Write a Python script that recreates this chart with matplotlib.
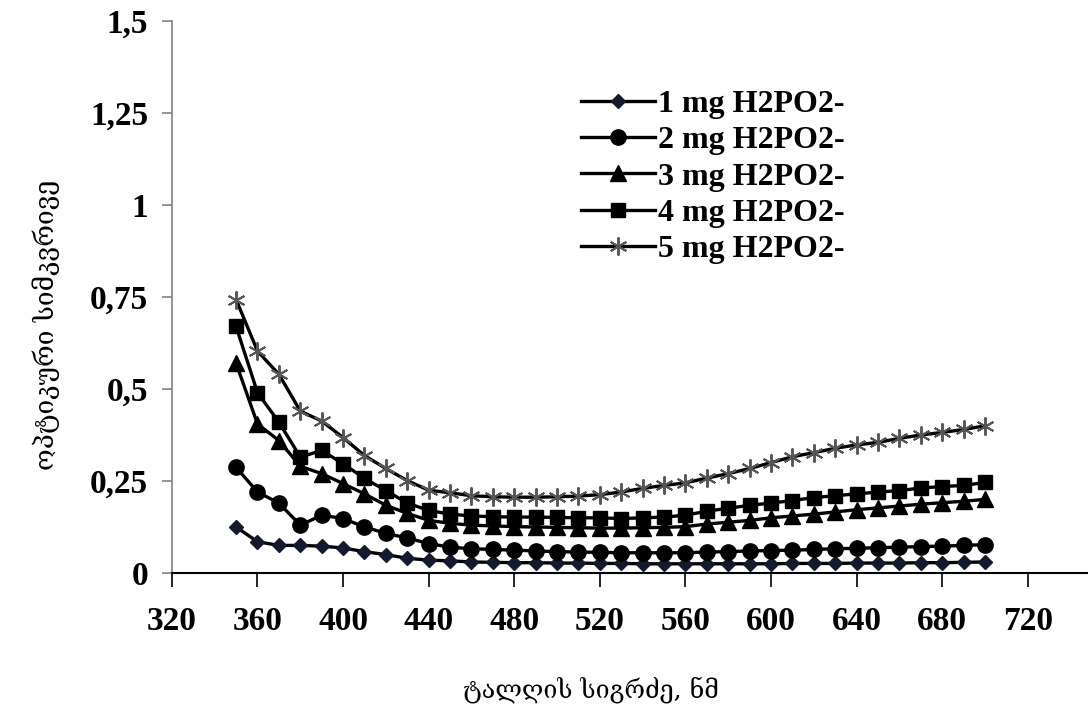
import matplotlib
matplotlib.use("Agg")
import matplotlib.pyplot as plt

# wavelength, nm
wl = [350, 360, 370, 380, 390, 400, 410, 420, 430, 440, 450, 460, 470, 480, 490, 500, 510, 520,
      530, 540, 550, 560, 570, 580, 590, 600, 610, 620, 630, 640, 650, 660, 670, 680, 690, 700]

mg1 = [0.125, 0.085, 0.075, 0.075, 0.073, 0.068, 0.058, 0.05, 0.04, 0.035, 0.033, 0.03, 0.029, 0.028,
       0.028, 0.027, 0.027, 0.026, 0.026, 0.025, 0.025, 0.025, 0.025, 0.025, 0.025, 0.025, 0.026, 0.026,
       0.026, 0.027, 0.027, 0.027, 0.028, 0.028, 0.029, 0.03]
mg2 = [0.287, 0.22, 0.19, 0.13, 0.157, 0.148, 0.125, 0.108, 0.095, 0.08, 0.07, 0.066, 0.064, 0.062,
       0.06, 0.058, 0.057, 0.056, 0.055, 0.055, 0.055, 0.055, 0.057, 0.058, 0.06, 0.061, 0.062, 0.064,
       0.066, 0.067, 0.069, 0.07, 0.072, 0.073, 0.075, 0.077]
mg3 = [0.57, 0.405, 0.36, 0.29, 0.27, 0.243, 0.215, 0.184, 0.162, 0.143, 0.135, 0.13, 0.128, 0.126,
       0.125, 0.124, 0.123, 0.122, 0.122, 0.123, 0.124, 0.126, 0.133, 0.138, 0.143, 0.15, 0.155, 0.16,
       0.166, 0.172, 0.177, 0.182, 0.187, 0.191, 0.195, 0.2]
mg4 = [0.67, 0.49, 0.41, 0.315, 0.333, 0.297, 0.257, 0.224, 0.19, 0.17, 0.16, 0.155, 0.153, 0.152,
       0.152, 0.151, 0.15, 0.15, 0.148, 0.15, 0.152, 0.157, 0.168, 0.176, 0.184, 0.19, 0.197, 0.205,
       0.21, 0.215, 0.22, 0.224, 0.231, 0.235, 0.238, 0.246]
mg5 = [0.743, 0.603, 0.54, 0.44, 0.413, 0.368, 0.319, 0.284, 0.251, 0.225, 0.218, 0.21, 0.207, 0.206,
       0.206, 0.207, 0.209, 0.213, 0.22, 0.23, 0.238, 0.245, 0.258, 0.27, 0.284, 0.3, 0.316, 0.327,
       0.339, 0.348, 0.355, 0.366, 0.375, 0.382, 0.39, 0.4]

labels = ["1 mg H2PO2-", "2 mg H2PO2-", "3 mg H2PO2-", "4 mg H2PO2-", "5 mg H2PO2-"]
yticks = [0, 0.25, 0.5, 0.75, 1, 1.25, 1.5]
ytick_labels = ["0", "0,25", "0,5", "0,75", "1", "1,25", "1,5"]
xticks = [320, 360, 400, 440, 480, 520, 560, 600, 640, 680, 720, 760]
xtick_labels = ["320", "360", "400", "440", "480", "520", "560", "600", "640", "680", "720", ""]

fig = plt.figure(figsize=(10.88, 7.15), dpi=100)
ax = fig.add_axes([0.158, 0.1986, 0.8654, 0.772])

lw = 2.4
ax.plot(wl, mg1, color="black", lw=lw, marker="D", ms=7, mfc="#141a2e", mec="#141a2e", label=labels[0])
ax.plot(wl, mg2, color="black", lw=lw, marker="o", ms=11, mfc="black", mec="black", label=labels[1])
ax.plot(wl, mg3, color="black", lw=lw, marker="^", ms=11, mfc="black", mec="black", label=labels[2])
ax.plot(wl, mg4, color="black", lw=lw, marker="s", ms=10, mfc="black", mec="black", label=labels[3])
ax.plot(wl, mg5, color="black", lw=lw, marker=(6, 2, 0), ms=13, mew=1.4, mec="#555555", label=labels[4])

ax.set_xlim(320, 760)
ax.set_ylim(0, 1.5)
ax.set_xticks(xticks)
ax.set_xticklabels(xtick_labels)
ax.set_yticks(yticks)
ax.set_yticklabels(ytick_labels)

for s in ["top", "right"]:
    ax.spines[s].set_visible(False)
ax.spines["left"].set_color("#808080")
ax.spines["left"].set_linewidth(1.2)
ax.spines["bottom"].set_color("black")
ax.spines["bottom"].set_linewidth(1.5)
ax.tick_params(axis="y", direction="out", length=7, width=1.2, color="#808080", pad=10)
ax.tick_params(axis="x", direction="out", length=10, width=1.2, color="black", pad=14)

for t in ax.get_xticklabels() + ax.get_yticklabels():
    t.set_fontfamily("Liberation Serif")
    t.set_fontweight("bold")
    t.set_fontsize(24)

fig.text(0.543, 0.035, "ტალღის სიგრძე, ნმ", fontsize=18, family=["DejaVu Serif", "DejaVu Sans"],
         ha="center", va="center")
fig.text(0.042, 0.545, "ოპტიკური სიმკვრივე", fontsize=19, family=["DejaVu Serif", "DejaVu Sans"],
         ha="center", va="center", rotation=90)

ax.legend(loc="upper left", bbox_to_anchor=(0.508, 0.915), bbox_transform=fig.transFigure,
          frameon=False, handlelength=2.3, handletextpad=0.1, labelspacing=0.22,
          prop={"family": "Liberation Serif", "weight": "bold", "size": 23})

fig.savefig("out.png", dpi=100)
